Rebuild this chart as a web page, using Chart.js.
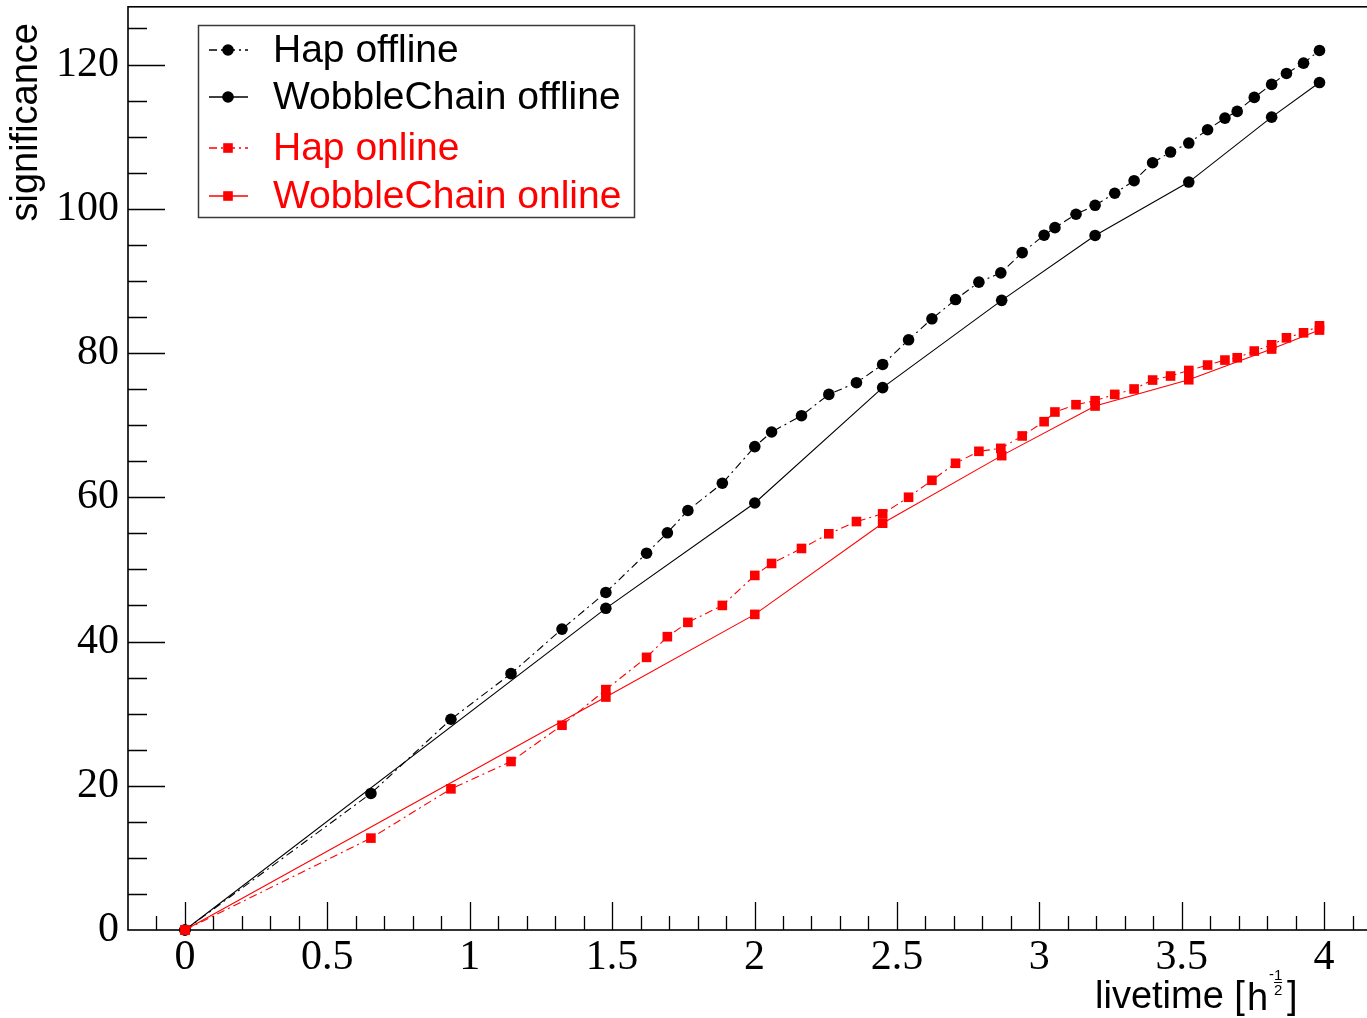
<!DOCTYPE html>
<html>
<head>
<meta charset="utf-8">
<script src="https://cdn.jsdelivr.net/npm/chart.js@4/dist/chart.umd.min.js"></script>
<style>
  html, body { margin: 0; padding: 0; background: #fff; overflow: hidden; }
  #wrap { position: relative; width: 1400px; height: 1018px; }
</style>
</head>
<body>
<div id="wrap"><canvas id="c" width="1400" height="1018"></canvas></div>
<script>
// livetime [h^-1/2] of the Hap runs (offline and online use the same runs)
const hapLivetime = [0, 0.653, 0.934, 1.145, 1.324, 1.478, 1.621, 1.694, 1.766, 1.887, 2.001,
  2.060, 2.165, 2.261, 2.358, 2.450, 2.541, 2.623, 2.706, 2.788, 2.865, 2.940, 3.017, 3.055,
  3.129, 3.196, 3.265, 3.333, 3.398, 3.461, 3.525, 3.591, 3.652, 3.695, 3.755, 3.816, 3.868,
  3.928, 3.984];
const hapOffline = [0, 18.93, 29.22, 35.54, 41.72, 46.80, 52.24, 55.07, 58.16, 61.94, 67.02,
  69.05, 71.31, 74.26, 75.88, 78.41, 81.83, 84.74, 87.41, 89.82, 91.11, 93.92, 96.33, 97.38,
  99.24, 100.48, 102.15, 103.89, 106.38, 107.86, 109.11, 110.95, 112.57, 113.50, 115.44, 117.24,
  118.76, 120.19, 121.95];
const hapOnline = [0, 12.74, 19.57, 23.36, 28.39, 33.33, 37.80, 40.67, 42.65, 45.00, 49.16,
  50.82, 52.90, 54.93, 56.63, 57.70, 60.00, 62.35, 64.71, 66.37, 66.78, 68.50, 70.48, 71.82,
  72.83, 73.39, 74.26, 75.01, 76.25, 76.81, 77.58, 78.33, 79.02, 79.34, 80.27, 81.14, 82.11,
  82.80, 83.77];

// livetime [h^-1/2] of the WobbleChain runs
const wobbleLivetime = [0, 1.478, 2.001, 2.450, 2.868, 3.196, 3.525, 3.816, 3.984];
const wobbleOffline = [0, 44.6, 59.2, 75.2, 87.3, 96.3, 103.7, 112.7, 117.5];
const wobbleOnline = [0, 32.30, 43.76, 56.40, 65.77, 72.65, 76.29, 80.55, 83.18];

const seriesLabels = ['Hap offline', 'WobbleChain offline', 'Hap online', 'WobbleChain online'];

// labelled axis ticks
const xTickValues = [0, 0.5, 1, 1.5, 2, 2.5, 3, 3.5, 4];
const yTickValues = [0, 20, 40, 60, 80, 100, 120];

const BLACK = '#000000';
const RED = '#ff0000';
const DASH_DOT = [8, 4, 2, 4];

function points(xs, ys) {
  return xs.map((x, i) => ({ x: x, y: ys[i] }));
}

function series(label, xs, ys, color, dashed, style, radius, order) {
  return {
    label: label,
    data: points(xs, ys),
    showLine: true,
    borderColor: color,
    backgroundColor: color,
    borderWidth: 1.1,
    borderDash: dashed ? DASH_DOT : [],
    tension: 0,
    pointStyle: style,
    pointRadius: radius,
    pointHoverRadius: radius,
    pointBorderWidth: 0,
    pointBackgroundColor: color,
    clip: false,
    order: order
  };
}

const datasets = [
  series(seriesLabels[0], hapLivetime, hapOffline, BLACK, true, 'circle', 5.8, 3),
  series(seriesLabels[1], wobbleLivetime, wobbleOffline, BLACK, false, 'circle', 5.8, 2),
  series(seriesLabels[2], hapLivetime, hapOnline, RED, true, 'rect', 6.8, 1),
  series(seriesLabels[3], wobbleLivetime, wobbleOnline, RED, false, 'rect', 6.8, 0)
];

// frame and inward tick marks, drawn under the data
const framePlugin = {
  id: 'frame',
  beforeDatasetsDraw(chart) {
    const ctx = chart.ctx, a = chart.chartArea;
    const xs = chart.scales.x, ys = chart.scales.y;
    ctx.save();
    ctx.strokeStyle = '#000';
    ctx.lineWidth = 1.3;
    ctx.beginPath();
    for (let k = -1; k <= 41; k++) {
      const px = Math.round(xs.getPixelForValue(k / 10)) + 0.5;
      const len = (k % 5 === 0) ? 28 : 14;
      ctx.moveTo(px, a.bottom);
      ctx.lineTo(px, a.bottom - len);
    }
    for (let k = 1; k <= 25; k++) {
      const v = k * 5;
      const py = Math.round(ys.getPixelForValue(v)) + 0.5;
      const len = (v % 20 === 0) ? 37 : 19;
      ctx.moveTo(a.left, py);
      ctx.lineTo(a.left + len, py);
    }
    ctx.stroke();
    ctx.lineWidth = 1.6;
    ctx.strokeRect(a.left, a.top, a.right - a.left, a.bottom - a.top);
    ctx.restore();
  }
};

// axis titles and boxed legend
const overlayPlugin = {
  id: 'overlay',
  afterDraw(chart) {
    const ctx = chart.ctx;
    ctx.save();

    // y title
    ctx.save();
    ctx.translate(37, 23);
    ctx.rotate(-Math.PI / 2);
    ctx.font = '38px "Liberation Sans"';
    ctx.fillStyle = '#000';
    ctx.textAlign = 'right';
    ctx.textBaseline = 'alphabetic';
    ctx.fillText('significance', 0, 0);
    ctx.restore();

    // x title: livetime [h^-1/2]
    ctx.fillStyle = '#000';
    ctx.textAlign = 'left';
    ctx.textBaseline = 'alphabetic';
    ctx.font = '38px "Liberation Sans"';
    const x0 = 1095, base = 1008;
    const head = 'livetime [';
    ctx.fillText(head, x0, base);
    let cx = x0 + ctx.measureText(head).width + 2;
    ctx.fillText('h', cx, base + 2);
    cx += ctx.measureText('h').width + 1;
    ctx.font = '15px "Liberation Sans"';
    ctx.fillText('-', cx, base - 29);
    const fx = cx + 9;
    ctx.textAlign = 'center';
    ctx.fillText('1', fx, base - 28);
    ctx.fillRect(fx - 4, base - 26, 8, 1);
    ctx.fillText('2', fx, base - 13);
    ctx.textAlign = 'left';
    ctx.font = '38px "Liberation Sans"';
    ctx.fillText(']', fx + 9, base);

    // legend
    const box = { x: 198.5, y: 25.5, w: 436, h: 192 };
    ctx.fillStyle = '#fff';
    ctx.fillRect(box.x, box.y, box.w, box.h);
    ctx.strokeStyle = '#3a3a3a';
    ctx.lineWidth = 1.5;
    ctx.strokeRect(box.x, box.y, box.w, box.h);
    const rowY = [50, 97, 148, 196];
    chart.data.datasets.forEach((ds, i) => {
      const y = rowY[i];
      ctx.save();
      ctx.strokeStyle = ds.borderColor;
      ctx.lineWidth = 1.6;
      ctx.setLineDash(ds.borderDash);
      ctx.beginPath();
      ctx.moveTo(209, y);
      ctx.lineTo(248, y);
      ctx.stroke();
      ctx.setLineDash([]);
      ctx.fillStyle = ds.backgroundColor;
      Chart.helpers.drawPoint(ctx, {
        pointStyle: ds.pointStyle, radius: ds.pointRadius, rotation: 0, borderWidth: 0
      }, 228, y);
      ctx.font = '39px "Liberation Sans"';
      ctx.textAlign = 'left';
      ctx.textBaseline = 'middle';
      ctx.fillText(ds.label, 273, y + 1);
      ctx.restore();
    });

    ctx.restore();
  }
};

new Chart(document.getElementById('c'), {
  type: 'scatter',
  data: { datasets: datasets },
  options: {
    responsive: false,
    animation: false,
    devicePixelRatio: 1,
    layout: { padding: { top: 6, right: 19, left: 0, bottom: 0 } },
    plugins: { legend: { display: false }, tooltip: { enabled: false } },
    events: [],
    scales: {
      x: {
        type: 'linear',
        position: 'bottom',
        min: -0.2,
        max: 4.2,
        afterBuildTicks: s => { s.ticks = xTickValues.map(v => ({ value: v })); },
        afterFit: s => { s.height = 88; s.paddingLeft = 0; s.paddingRight = 0; },
        grid: { display: false, drawTicks: false },
        border: { display: false },
        ticks: {
          padding: 3,
          autoSkip: false,
          maxRotation: 0,
          color: '#000',
          font: { family: 'Liberation Serif', size: 42 },
          callback: v => String(v)
        }
      },
      y: {
        type: 'linear',
        position: 'left',
        min: 0,
        max: 128,
        afterBuildTicks: s => { s.ticks = yTickValues.map(v => ({ value: v })); },
        afterFit: s => { s.width = 128; s.paddingTop = 0; s.paddingBottom = 0; },
        grid: { display: false, drawTicks: false },
        border: { display: false },
        ticks: {
          padding: 9,
          color: '#000',
          font: { family: 'Liberation Serif', size: 42 },
          callback: v => String(v)
        }
      }
    }
  },
  plugins: [framePlugin, overlayPlugin]
});
</script>
</body>
</html>
